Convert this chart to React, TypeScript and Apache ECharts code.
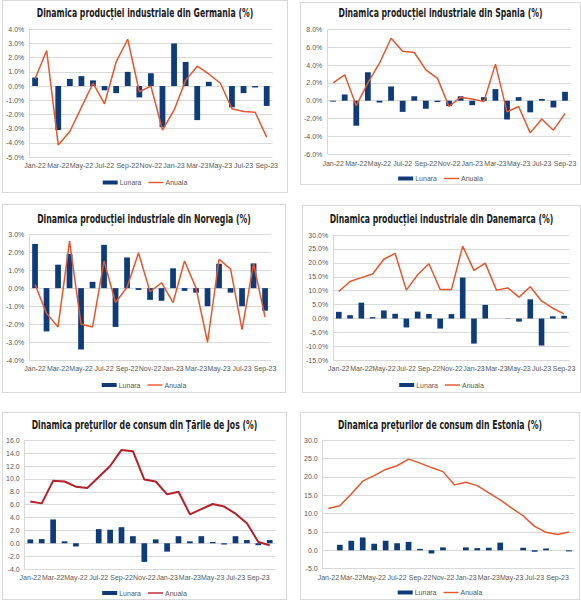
import { useEffect, useRef } from "react";
import * as echarts from "echarts";

const months21 = [
  "Jan-22", "Feb-22", "Mar-22", "Apr-22", "May-22", "Jun-22", "Jul-22",
  "Aug-22", "Sep-22", "Oct-22", "Nov-22", "Dec-22", "Jan-23", "Feb-23",
  "Mar-23", "Apr-23", "May-23", "Jun-23", "Jul-23", "Aug-23", "Sep-23",
];
const months22 = [...months21, "Oct-23"];

const deMonthly = [0.6, 0, -3.1, 0.5, 0.7, 0.4, -0.3, -0.5, 1.0, -0.8, 0.9, -2.9, 3.0, 1.7, -2.4, 0.3, 0, -1.5, -0.5, -0.1, -1.4];
const deAnnual = [0.5, 2.5, -4.15, -3.2, -1.5, 0.2, -1.25, 1.7, 3.3, -0.4, 0.0, -3.1, -1.7, 0.4, 1.4, 0.85, 0.2, -1.6, -1.8, -1.85, -3.6];

const esMonthly = [-0.1, 0.7, -2.8, 3.2, -0.2, 1.6, -1.25, 0.5, -0.9, -0.15, -0.6, 0.5, -0.5, 0.4, 1.3, -2.1, 0.4, -1.3, 0.2, -0.75, 1.0];
const esAnnual = [2.0, 2.9, -0.55, 2.0, 4.2, 7.0, 5.55, 5.4, 3.45, 2.5, -0.65, 0.4, 0.2, -0.1, 4.1, -1.25, -0.65, -3.6, -2.05, -3.3, -1.45];

const noMonthly = [2.45, -2.4, 1.3, 1.9, -3.4, 0.35, 2.4, -2.15, 1.7, -0.1, -0.65, -0.7, 1.1, -0.15, -0.25, -1.0, 1.35, -0.25, -1.0, 1.37, -1.25];
const noAnnual = [0.2, -1.4, -2.15, 2.6, -2.0, -2.15, 1.5, -0.8, 0.05, 1.95, -0.2, 0.3, -0.8, 1.5, 0.0, -3.0, 1.6, 1.05, -2.3, 1.35, -1.6];

const dkMonthly = [2.4, 1.2, 5.7, 0.5, 2.9, 1.7, -3.2, 2.5, 1.6, -3.6, 1.6, 14.7, -9.0, 4.9, 0, -0.1, -1.1, 6.9, -9.7, 0.8, 1.0];
const dkAnnual = [9.7, 13.3, 14.7, 16.0, 21.3, 23.4, 10.2, 15.7, 19.7, 10.4, 10.4, 26.0, 17.3, 19.9, 10.2, 11.0, 7.7, 11.4, 6.3, 3.7, 1.7];

const nlMonthly = [0.6, 0.65, 3.7, 0.3, -0.5, 0, 2.2, 2.1, 2.5, 1.1, -2.9, 0.6, -1.3, 1.1, 0.3, 1.1, 0.2, -0.2, 1.1, 0.5, -0.3, 0.5];
const nlAnnual = [6.5, 6.2, 9.7, 9.6, 8.8, 8.6, 10.3, 12.0, 14.5, 14.3, 9.9, 9.6, 7.6, 8.0, 4.5, 5.3, 6.1, 5.7, 4.6, 3.1, 0.2, -0.3];

const eeMonthly = [0, 1.5, 2.6, 3.5, 1.8, 2.6, 1.9, 2.3, 0.4, -0.9, 0.8, 0, 0.8, 0.6, 0.7, 2.1, 0, 0.7, -0.4, 0.5, 0, -0.3];
const eeAnnual = [11.4, 12.1, 15.3, 18.8, 20.3, 22.0, 23.0, 24.8, 23.7, 22.5, 21.4, 17.8, 18.5, 17.6, 15.6, 13.7, 11.5, 9.4, 6.5, 4.9, 4.3, 5.0];

const BAR = "#0f3c78";
const ORANGE = "#e4572e";
const DARKRED = "#b5202a";
const GRID = "#d9d9d9";
const LABEL = "#595959";
const AXIS_FONT = '"Liberation Sans", Arial, sans-serif';
const TITLE_FONT = '"Liberation Sans Narrow", "DejaVu Sans Condensed", sans-serif';
// thin line inside a 15x4 box, so the legend icon looks like a line
const LINE_ICON = "path://M0,0L0,0M0,1.3L15,1.3L15,2.7L0,2.7ZM15,4L15,4";

type PanelProps = {
  box: [number, number, number, number]; // border x0, y0, x1, y1
  plot: [number, number, number, number]; // left, top, right, bottom
  title: string;
  titleY: number;
  xLabelY: number;
  legendY: number;
  categories: string[];
  monthly: number[];
  annual: number[];
  lineColor: string;
  lineWidth: number;
  yMin: number;
  yMax: number;
  yStep: number;
  pct: boolean;
};

function Panel(p: PanelProps) {
  const ref = useRef<HTMLDivElement>(null);
  const [x0, y0, x1, y1] = p.box;
  const w = x1 - x0 - 1;
  const h = y1 - y0 - 1;

  useEffect(() => {
    if (!ref.current) return;
    const chart = echarts.init(ref.current, null, { renderer: "svg" });
    const ox = x0 + 1;
    const oy = y0 + 1;
    const [pl, pt, pr, pb] = p.plot;

    chart.setOption({
      animation: false,
      backgroundColor: "#ffffff",
      graphic: [
        {
          type: "text",
          x: w / 2,
          y: p.titleY - oy,
          scaleX: 0.75,
          style: {
            text: p.title,
            fill: "#1a1a1a",
            font: `bold 11.5px ${TITLE_FONT}`,
            textAlign: "center",
            textVerticalAlign: "middle",
          },
        },
      ],
      legend: {
        top: p.legendY - oy - 4,
        left: "center",
        padding: 0,
        itemWidth: 15,
        itemHeight: 4,
        itemGap: 7,
        textStyle: { color: LABEL, fontSize: 7, fontFamily: AXIS_FONT, padding: [0, 0, 0, -3] },
        data: [
          { name: "Lunara", icon: "rect" },
          { name: "Anuala", icon: LINE_ICON },
        ],
      },
      grid: {
        left: pl - ox,
        top: pt - oy,
        width: pr - pl,
        height: pb - pt,
      },
      xAxis: {
        type: "category",
        data: p.categories,
        axisLine: { onZero: false, show: false },
        axisTick: { show: false },
        axisLabel: {
          interval: 1,
          color: LABEL,
          fontSize: 7,
          fontFamily: AXIS_FONT,
          margin: p.xLabelY - pb - 4,
        },
        splitLine: { show: false },
      },
      yAxis: {
        type: "value",
        min: p.yMin,
        max: p.yMax,
        interval: p.yStep,
        axisLine: { show: true, lineStyle: { color: GRID, width: 1 } },
        axisTick: { show: false },
        axisLabel: {
          color: LABEL,
          fontSize: 7,
          fontFamily: AXIS_FONT,
          margin: 5,
          formatter: (v: number) => v.toFixed(1) + (p.pct ? "%" : ""),
        },
        splitLine: { lineStyle: { color: GRID, width: 1 } },
      },
      series: [
        {
          name: "Lunara",
          type: "bar",
          data: p.monthly,
          barWidth: "50%",
          itemStyle: { color: BAR },
        },
        {
          name: "Anuala",
          type: "line",
          data: p.annual,
          symbol: "none",
          lineStyle: { color: p.lineColor, width: p.lineWidth },
          itemStyle: { color: p.lineColor },
        },
      ],
    });
    return () => chart.dispose();
  }, []);

  return (
    <div
      ref={ref}
      style={{
        position: "absolute",
        left: x0,
        top: y0,
        width: w,
        height: h,
        border: `1px solid ${GRID}`,
      }}
    />
  );
}

export default function App() {
  return (
    <div
      style={{
        position: "absolute",
        left: 0,
        top: 0,
        width: 581,
        height: 600,
        background: "#ffffff",
        overflow: "hidden",
      }}
    >
      <Panel
        box={[2, 0, 287, 192]}
        plot={[27.5, 29.3, 272.5, 157]}
        title="Dinamica producției industriale din Germania (%)"
        titleY={13}
        xLabelY={166}
        legendY={183}
        categories={months21}
        monthly={deMonthly}
        annual={deAnnual}
        lineColor={ORANGE}
        lineWidth={1.5}
        yMin={-5}
        yMax={4}
        yStep={1}
        pct
      />
      <Panel
        box={[300, 2, 580, 184]}
        plot={[326.9, 29.3, 570.8, 154.3]}
        title="Dinamica producției industriale din Spania (%)"
        titleY={13.5}
        xLabelY={164}
        legendY={179}
        categories={months21}
        monthly={esMonthly}
        annual={esAnnual}
        lineColor={ORANGE}
        lineWidth={1.5}
        yMin={-6}
        yMax={8}
        yStep={2}
        pct
      />
      <Panel
        box={[2, 204, 285, 392]}
        plot={[28.9, 234, 270.8, 360.3]}
        title="Dinamica producției industriale din Norvegia (%)"
        titleY={219.5}
        xLabelY={369}
        legendY={385.5}
        categories={months21}
        monthly={noMonthly}
        annual={noAnnual}
        lineColor={ORANGE}
        lineWidth={1.5}
        yMin={-4}
        yMax={3}
        yStep={1}
        pct
      />
      <Panel
        box={[302, 205, 580, 392]}
        plot={[331.7, 235, 569.7, 360.3]}
        title="Dinamica producției industriale din Danemarca (%)"
        titleY={219}
        xLabelY={369}
        legendY={385.5}
        categories={months21}
        monthly={dkMonthly}
        annual={dkAnnual}
        lineColor={ORANGE}
        lineWidth={1.5}
        yMin={-15}
        yMax={30}
        yStep={5}
        pct
      />
      <Panel
        box={[2, 412, 286, 599]}
        plot={[24.3, 440.3, 275.4, 569]}
        title="Dinamica prețurilor de consum din Țările de Jos (%)"
        titleY={425}
        xLabelY={577.5}
        legendY={593.5}
        categories={months22}
        monthly={nlMonthly}
        annual={nlAnnual}
        lineColor={DARKRED}
        lineWidth={2}
        yMin={-4}
        yMax={16}
        yStep={2}
        pct={false}
      />
      <Panel
        box={[300, 412, 579, 599]}
        plot={[322, 440, 574.7, 568.7]}
        title="Dinamica prețurilor de consum din Estonia (%)"
        titleY={425.5}
        xLabelY={577.5}
        legendY={593}
        categories={months22}
        monthly={eeMonthly}
        annual={eeAnnual}
        lineColor={ORANGE}
        lineWidth={1.5}
        yMin={-5}
        yMax={30}
        yStep={5}
        pct={false}
      />
    </div>
  );
}
